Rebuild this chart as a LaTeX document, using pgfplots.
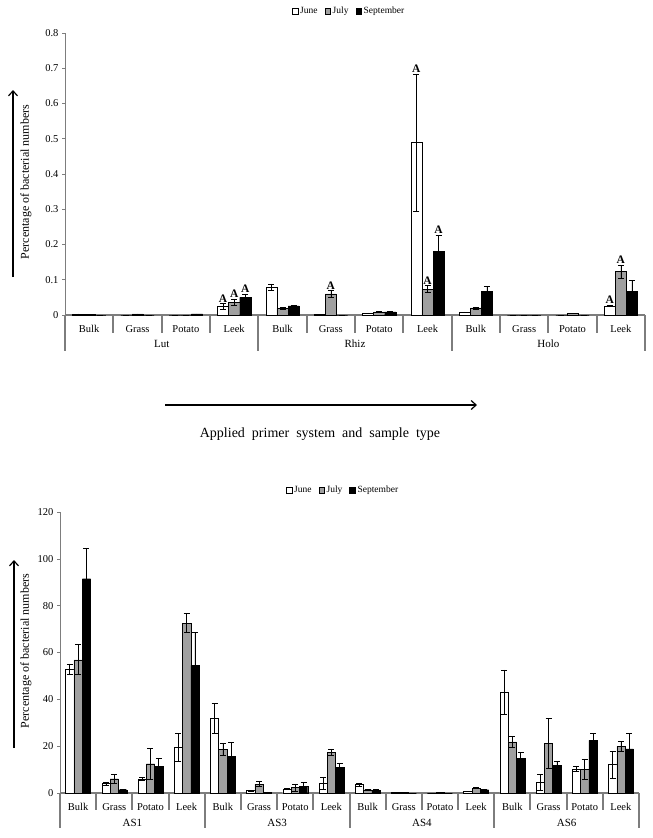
\documentclass[border=0pt]{standalone}
\usepackage{fontspec}
\setmainfont{Liberation Serif}
\usepackage{pgfplots}
\pgfplotsset{compat=1.18}
\usepackage{pgfplotstable}
\usetikzlibrary{arrows.meta}

\definecolor{julygray}{RGB}{160,160,160}
\definecolor{axgray}{RGB}{125,125,125}

% x = category index, je/jye/se = error bars
\pgfplotstableread{
x  june   je     july   jye    sep    se
0  0.003  0      0.001  0      0      0
1  0      0      0.003  0      0      0
2  0      0      0      0      0.003  0
3  0.024  0.008  0.036  0.008  0.050  0.010
4  0.079  0.009  0.019  0.002  0.026  0.002
5  0.002  0      0.060  0.009  0      0
6  0.005  0.001  0.009  0.002  0.009  0.002
7  0.489  0.195  0.073  0.010  0.181  0.045
8  0.008  0.001  0.020  0.003  0.067  0.014
9  0      0      0      0      0      0
10 0      0      0.004  0      0      0
11 0.026  0.002  0.123  0.019  0.067  0.031
}\toptable

\pgfplotstableread{
x  june  je    july  jye   sep   se
0  53.0  2.1   56.9  6.4   91.5  13.1
1  4.0   0.5   6.1   2.0   1.4   0.2
2  6.1   0.7   12.5  6.7   11.4  3.3
3  19.5  6.0   72.6  4.0   54.5  14.2
4  32.0  6.4   18.5  2.6   15.7  6.0
5  1.0   0.2   3.8   1.0   0.4   0.1
6  1.7   0.3   2.3   1.6   2.8   1.6
7  4.3   2.6   17.5  1.3   11.1  1.7
8  3.6   0.7   1.4   0.3   1.1   0.5
9  0.4   0     0.4   0     0     0
10 0     0     0.3   0     0     0
11 0.7   0.1   2.1   0.3   1.4   0.3
12 43.1  9.5   21.8  2.4   14.7  2.7
13 4.6   3.3   21.1  10.7  11.7  1.8
14 10.2  1.1   10.2  4.4   22.5  3.1
15 12.1  5.7   19.9  2.1   18.8  6.5
}\bottable

\tikzset{markA/.style={font=\bfseries\fontsize{11.5}{12}\selectfont, anchor=south, inner sep=1pt}}

\pgfplotsset{
  panel/.style={
    scale only axis, clip=false,
    axis lines=left, axis line style={-},
    x axis line style={axgray, line width=2pt},
    y axis line style={axgray, line width=0.6pt},
    ybar, bar width=0.23,
    ymin=0, xmin=-0.5,
    xtick style={draw=none},
    ytick style={axgray, line width=0.6pt},
    tick align=outside, major tick length=3pt,
    tick label style={font=\fontsize{10.5}{12}\selectfont},
    xticklabel style={yshift=-4pt},
    /pgf/number format/assume math mode=true,
    /pgf/number format/fixed,
    legend columns=3,
    legend style={draw=none, fill=none, anchor=center, inner sep=0pt,
      font=\fontsize{9.5}{11}\selectfont,
      /tikz/every even column/.append style={column sep=5pt}},
    legend image code/.code={\draw[#1,line width=0.5pt] (0pt,-2.8pt) rectangle (5.6pt,2.8pt);},
    error bars/y dir=both, error bars/y explicit,
    error bars/error bar style={black, line width=0.6pt},
    error bars/error mark options={rotate=90, mark size=3pt, black, line width=0.6pt},
  },
}

\begin{document}
\begin{tikzpicture}
\useasboundingbox (0pt,0pt) rectangle (653pt,-838pt);

% ---------- top panel ----------
\begin{axis}[panel,
    at={(65pt,-315pt)}, anchor=south west,
    width=580pt, height=282pt,
    xmax=11.5, ymax=0.8,
    xtick={0,...,11},
    xticklabels={Bulk,Grass,Potato,Leek,Bulk,Grass,Potato,Leek,Bulk,Grass,Potato,Leek},
    ytick={0,0.1,0.2,0.3,0.4,0.5,0.6,0.7,0.8},
    legend style={at={(0.49,1.078)}},
  ]
\addplot[bar shift=-0.23, fill=white, draw=black] table[x=x, y=june, y error=je] {\toptable};
\addplot[bar shift=0, fill=julygray, draw=black] table[x=x, y=july, y error=jye] {\toptable};
\addplot[bar shift=0.23, fill=black, draw=black] table[x=x, y=sep, y error=se] {\toptable};
\legend{June,July,September}

\pgfplotsinvokeforeach{0.5,1.5,2.5,4.5,5.5,6.5,8.5,9.5,10.5}{
  \draw[axgray, line width=2pt] (axis cs:#1,0) -- ++(0pt,-18pt);
}
\pgfplotsinvokeforeach{-0.5,3.5,7.5,11.5}{
  \draw[axgray, line width=2pt] (axis cs:#1,0) -- ++(0pt,-36pt);
}
\node[font=\fontsize{11}{12}\selectfont] at ([yshift=-29pt]axis cs:1.5,0) {Lut};
\node[font=\fontsize{11}{12}\selectfont] at ([yshift=-29pt]axis cs:5.5,0) {Rhiz};
\node[font=\fontsize{11}{12}\selectfont] at ([yshift=-29pt]axis cs:9.5,0) {Holo};

\node[markA] at (axis cs:2.77,0.033) {A};
\node[markA] at (axis cs:3,0.045) {A};
\node[markA] at (axis cs:3.23,0.061) {A};
\node[markA] at (axis cs:5,0.070) {A};
\node[markA] at (axis cs:6.77,0.685) {A};
\node[markA] at (axis cs:7,0.084) {A};
\node[markA] at (axis cs:7.23,0.227) {A};
\node[markA] at (axis cs:10.77,0.029) {A};
\node[markA] at (axis cs:11,0.143) {A};
\end{axis}

% ---------- bottom panel ----------
\begin{axis}[panel,
    at={(60pt,-793pt)}, anchor=south west,
    width=579pt, height=281pt,
    xmax=15.5, ymax=120,
    xtick={0,...,15},
    xticklabels={Bulk,Grass,Potato,Leek,Bulk,Grass,Potato,Leek,Bulk,Grass,Potato,Leek,Bulk,Grass,Potato,Leek},
    ytick={0,20,40,60,80,100,120},
    legend style={at={(0.489,1.078)}},
  ]
\addplot[bar shift=-0.23, fill=white, draw=black] table[x=x, y=june, y error=je] {\bottable};
\addplot[bar shift=0, fill=julygray, draw=black] table[x=x, y=july, y error=jye] {\bottable};
\addplot[bar shift=0.23, fill=black, draw=black] table[x=x, y=sep, y error=se] {\bottable};
\legend{June,July,September}

\pgfplotsinvokeforeach{0.5,1.5,2.5,4.5,5.5,6.5,8.5,9.5,10.5,12.5,13.5,14.5}{
  \draw[axgray, line width=2pt] (axis cs:#1,0) -- ++(0pt,-17pt);
}
\pgfplotsinvokeforeach{-0.5,3.5,7.5,11.5,15.5}{
  \draw[axgray, line width=2pt] (axis cs:#1,0) -- ++(0pt,-35pt);
}
\node[font=\fontsize{11}{12}\selectfont] at ([yshift=-30pt]axis cs:1.5,0) {AS1};
\node[font=\fontsize{11}{12}\selectfont] at ([yshift=-30pt]axis cs:5.5,0) {AS3};
\node[font=\fontsize{11}{12}\selectfont] at ([yshift=-30pt]axis cs:9.5,0) {AS4};
\node[font=\fontsize{11}{12}\selectfont] at ([yshift=-30pt]axis cs:13.5,0) {AS6};
\end{axis}

% ---------- arrows and labels ----------
\draw[-{Straight Barb[length=5pt,width=9pt]}, line width=1.2pt] (13pt,-277pt) -- (13pt,-90pt);
\node[rotate=90, font=\fontsize{12}{14}\selectfont] at (26pt,-182pt) {Percentage of bacterial numbers};
\draw[-{Straight Barb[length=5pt,width=9pt]}, line width=1.2pt] (165pt,-405pt) -- (477pt,-405pt);
\node[font=\fontsize{14}{16}\selectfont] at (320pt,-434pt) {Applied\ \ primer\ \ system\ \ and\ \ sample\ \ type};
\draw[-{Straight Barb[length=5pt,width=9pt]}, line width=1.2pt] (14pt,-748pt) -- (14pt,-560pt);
\node[rotate=90, font=\fontsize{12}{14}\selectfont] at (26pt,-651pt) {Percentage of bacterial numbers};
\end{tikzpicture}
\end{document}
